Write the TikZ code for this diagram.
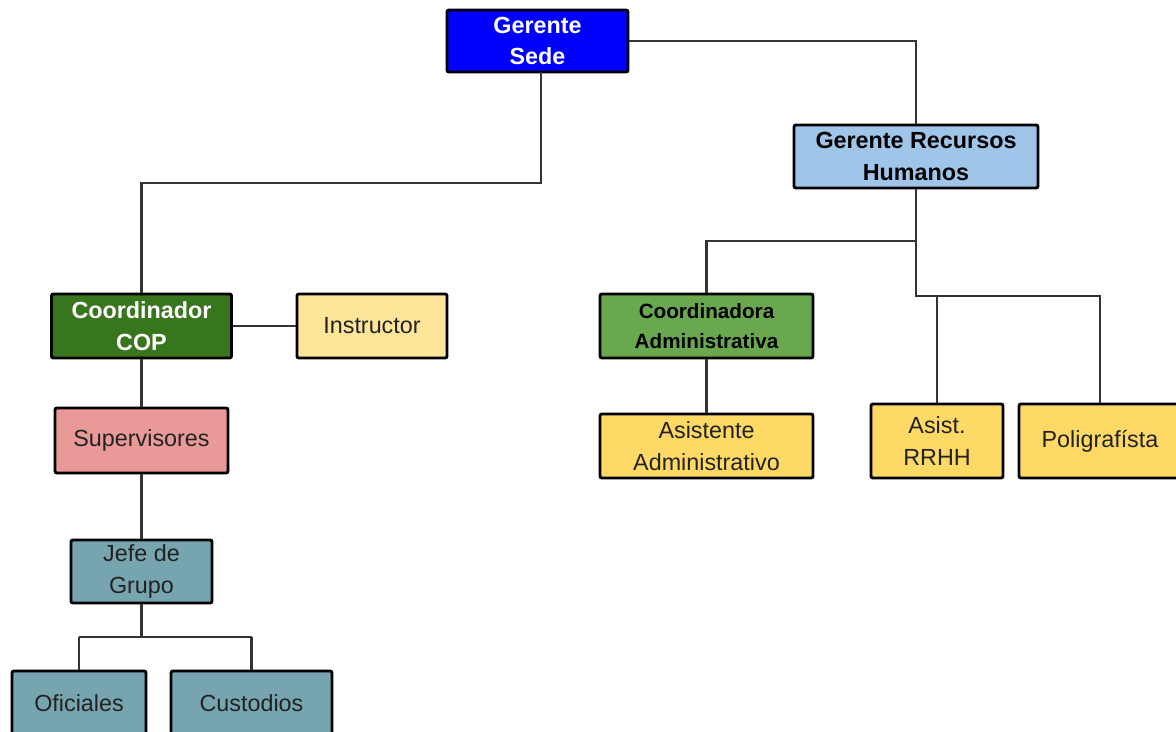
\documentclass[tikz,border=0pt]{standalone}
\usepackage{fontspec}
\setmainfont{Liberation Sans}
\definecolor{cBlue}{HTML}{0000FF}
\definecolor{cLBlue}{HTML}{9FC5E8}
\definecolor{cDGreen}{HTML}{38761D}
\definecolor{cGreen}{HTML}{6AA84F}
\definecolor{cLYellow}{HTML}{FFE599}
\definecolor{cYellow}{HTML}{FFD966}
\definecolor{cPink}{HTML}{EA9999}
\definecolor{cTeal}{HTML}{76A5AF}
\definecolor{cLine}{HTML}{333333}
\definecolor{cText}{HTML}{222222}
\begin{document}
\begin{tikzpicture}[x=0.75pt,y=-0.75pt,
  orgbox/.style={draw=black,line width=2.2pt,rounded corners=1.5pt,align=center,inner sep=0pt,
    font=\fontsize{17.5}{23.5}\selectfont,text=cText},
  boldbox/.style={orgbox,font=\fontsize{17.5}{23.5}\selectfont\bfseries},
  link/.style={draw=cLine,line width=1.6pt}]
\useasboundingbox (0,0) rectangle (1176,731);
\clip (0,0) rectangle (1176,731);
\node[boldbox,fill=cBlue,text=white,minimum width=135.75pt,minimum height=46.5pt] (sede) at (537.5,41) {Gerente\\Sede};
\node[boldbox,fill=cLBlue,text=black,minimum width=183pt,minimum height=47.25pt] (rrhh) at (916,156.5) {Gerente Recursos\\Humanos};
\node[boldbox,fill=cDGreen,text=white,minimum width=135pt,minimum height=48pt] (cop) at (141.5,326) {Coordinador\\COP};
\node[orgbox,fill=cLYellow,minimum width=112.5pt,minimum height=48pt] (instr) at (372,326) {Instructor};
\node[orgbox,fill=cPink,minimum width=129.75pt,minimum height=48.75pt] (sup) at (141.5,440.5) {Supervisores};
\node[orgbox,fill=cTeal,minimum width=105.75pt,minimum height=47.25pt] (jefe) at (141.5,571.5) {Jefe de\\Grupo};
\node[orgbox,fill=cTeal,minimum width=100.5pt,minimum height=48pt] (ofic) at (79,703) {Oficiales};
\node[orgbox,fill=cTeal,minimum width=120.75pt,minimum height=48pt] (cust) at (251.5,703) {Custodios};
\node[boldbox,fill=cGreen,text=black,minimum width=159.75pt,minimum height=48pt,font=\fontsize{15.5}{22.5}\selectfont\bfseries] (cadm) at (706.5,326) {Coordinadora\\Administrativa};
\node[orgbox,fill=cYellow,minimum width=159.75pt,minimum height=48pt] (aadm) at (706.5,446) {Asistente\\Administrativo};
\node[orgbox,fill=cYellow,minimum width=99pt,minimum height=55.5pt] (arrhh) at (937,441) {Asist.\\RRHH};
\node[orgbox,fill=cYellow,minimum width=121.5pt,minimum height=55.5pt] (poli) at (1100,441) {Poligrafísta};
\coordinate (j1) at (916,41);
\coordinate (s1) at (541,72);
\coordinate (s2) at (541,183);
\coordinate (s3) at (141.5,183);
\coordinate (r1) at (916,241);
\coordinate (r2) at (706.5,241);
\coordinate (r3) at (916,296);
\coordinate (r4) at (937,296);
\coordinate (r5) at (1100,296);
\coordinate (g1) at (141.5,637);
\coordinate (g2) at (79,637);
\coordinate (g3) at (251.5,637);
\path[link] (sede.east) -- (j1) -- (rrhh.north);
\path[link] (s1) -- (s2) -- (s3) -- (cop.north);
\path[link] (rrhh.south) -- (r1) -- (r2) -- (cadm.north);
\path[link] (r1) -- (r3) -- (r5) -- (poli.north);
\path[link] (r4) -- (arrhh.north);
\path[link] (cop.east) -- (instr.west);
\path[link] (cop.south) -- (sup.north);
\path[link] (sup.south) -- (jefe.north);
\path[link] (jefe.south) -- (g1);
\path[link] (g2) -- (g3);
\path[link] (g2) -- (ofic.north);
\path[link] (g3) -- (cust.north);
\path[link] (cadm.south) -- (aadm.north);
\end{tikzpicture}
\end{document}
